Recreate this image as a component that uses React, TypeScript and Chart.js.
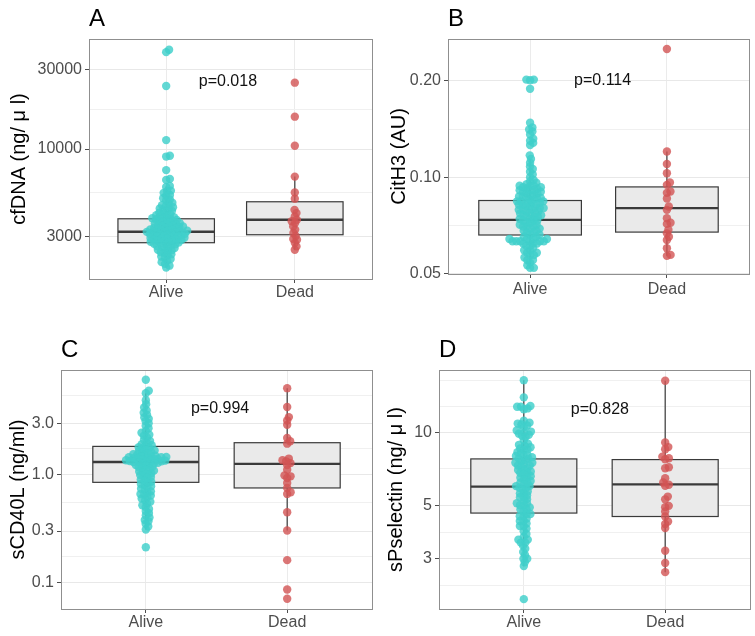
import React, { useEffect, useRef } from 'react';
import { Chart, registerables } from 'chart.js';
Chart.register(...registerables);

// ---------- data ----------
const categories = ['Alive', 'Dead'];

// Panel A: cfDNA
const cfdnaAlive = [39200, 37900, 23800, 11300, 9120, 9010, 7480, 6630, 6540, 6020, 5930, 5640, 5590, 5470, 5310, 5260, 5080, 4990, 4920, 4780, 4710, 4620, 4560, 4490, 4430, 4410, 4330, 4270, 4240, 4160, 4110, 4080, 4020, 3980, 3950, 3910, 3880, 3860, 3830, 3800, 3770, 3760, 3720, 3690, 3670, 3640, 3610, 3590, 3560, 3540, 3520, 3490, 3470, 3450, 3430, 3410, 3390, 3380, 3350, 3330, 3310, 3300, 3280, 3260, 3250, 3230, 3220, 3200, 3190, 3170, 3160, 3140, 3120, 3110, 3090, 3080, 3060, 3050, 3030, 3020, 3000, 2990, 2970, 2950, 2940, 2920, 2900, 2890, 2870, 2860, 2840, 2820, 2810, 2790, 2780, 2760, 2740, 2720, 2700, 2680, 2660, 2630, 2610, 2580, 2560, 2530, 2500, 2480, 2450, 2420, 2390, 2350, 2320, 2280, 2240, 2200, 2150, 2110, 2060, 2010, 1960];
const cfdnaDead = [24900, 15600, 10450, 6840, 5500, 5040, 4330, 4140, 3950, 3780, 3700, 3610, 3450, 3300, 3150, 3020, 2900, 2870, 2750, 2620, 2500];
// [lower whisker, Q1, median, Q3, upper whisker]
const cfdnaAliveBox = [1960, 2756, 3205, 3830, 5970];
const cfdnaDeadBox = [2500, 3075, 3780, 4840, 6840];
const cfdnaTicks = [3000, 10000, 30000];
const cfdnaTickLabels = ['3000', '10000', '30000'];
const cfdnaMinor = [5477, 17321];
const cfdnaRange = [1673, 45400];
const cfdnaP = { text: 'p=0.018', x: 1.48, y: 25100 };

// Panel B: CitH3
const cith3Alive = [0.202, 0.202, 0.201, 0.189, 0.148, 0.143, 0.141, 0.139, 0.136, 0.132, 0.130, 0.128, 0.126, 0.117, 0.114, 0.111, 0.108, 0.106, 0.104, 0.102, 0.100, 0.098, 0.097, 0.096, 0.095, 0.094, 0.094, 0.094, 0.093, 0.093, 0.092, 0.092, 0.091, 0.091, 0.091, 0.090, 0.090, 0.089, 0.089, 0.088, 0.088, 0.087, 0.087, 0.086, 0.086, 0.086, 0.085, 0.085, 0.084, 0.084, 0.084, 0.083, 0.083, 0.083, 0.082, 0.082, 0.082, 0.081, 0.081, 0.080, 0.080, 0.080, 0.079, 0.079, 0.079, 0.078, 0.078, 0.077, 0.077, 0.077, 0.076, 0.076, 0.075, 0.075, 0.075, 0.074, 0.074, 0.073, 0.073, 0.073, 0.072, 0.072, 0.071, 0.071, 0.070, 0.070, 0.070, 0.069, 0.069, 0.068, 0.068, 0.067, 0.067, 0.066, 0.066, 0.065, 0.065, 0.064, 0.064, 0.064, 0.064, 0.063, 0.063, 0.063, 0.063, 0.063, 0.063, 0.062, 0.062, 0.062, 0.061, 0.061, 0.060, 0.059, 0.059, 0.058, 0.058, 0.057, 0.057, 0.056, 0.055, 0.055, 0.054, 0.053, 0.052, 0.052];
const cith3Dead = [0.252, 0.1203, 0.110, 0.1029, 0.0962, 0.0946, 0.0902, 0.0893, 0.0857, 0.0809, 0.079, 0.0744, 0.072, 0.0714, 0.0684, 0.0667, 0.0651, 0.0636, 0.0599, 0.0571, 0.0567];
const cith3AliveBox = [0.052, 0.0659, 0.0735, 0.0845, 0.114];
const cith3DeadBox = [0.0567, 0.0673, 0.080, 0.0932, 0.1203];
const cith3Ticks = [0.05, 0.1, 0.2];
const cith3TickLabels = ['0.05', '0.10', '0.20'];
const cith3Minor = [0.0707, 0.1414];
const cith3Range = [0.04975, 0.2707];
const cith3P = { text: 'p=0.114', x: 1.53, y: 0.2 };

// Panel C: sCD40L
const cd40Alive = [7.6, 6.0, 5.7, 4.9, 4.5, 4.2, 3.95, 3.75, 3.6, 3.4, 3.3, 3.15, 3.0, 2.85, 2.7, 2.55, 2.45, 2.35, 2.3, 2.2, 2.1, 2.05, 1.98, 1.92, 1.88, 1.84, 1.8, 1.77, 1.74, 1.7, 1.68, 1.66, 1.62, 1.6, 1.58, 1.55, 1.53, 1.5, 1.5, 1.48, 1.47, 1.46, 1.45, 1.45, 1.43, 1.42, 1.4, 1.4, 1.39, 1.38, 1.36, 1.35, 1.35, 1.34, 1.33, 1.32, 1.31, 1.3, 1.29, 1.28, 1.26, 1.25, 1.23, 1.21, 1.19, 1.17, 1.15, 1.13, 1.11, 1.09, 1.07, 1.05, 1.03, 1.01, 0.99, 0.97, 0.95, 0.93, 0.9, 0.88, 0.86, 0.84, 0.82, 0.8, 0.78, 0.76, 0.74, 0.72, 0.7, 0.68, 0.66, 0.65, 0.64, 0.62, 0.6, 0.58, 0.56, 0.54, 0.52, 0.5, 0.48, 0.46, 0.44, 0.42, 0.4, 0.38, 0.37, 0.35, 0.33, 0.31, 0.212];
const cd40Dead = [6.35, 4.24, 3.42, 3.18, 2.9, 2.19, 2.04, 1.94, 1.41, 1.36, 1.33, 1.28, 1.23, 1.11, 0.985, 0.965, 0.93, 0.838, 0.753, 0.686, 0.663, 0.448, 0.303, 0.161, 0.086, 0.0706];
const cd40AliveBox = [0.31, 0.849, 1.31, 1.83, 5.7];
const cd40DeadBox = [0.303, 0.753, 1.26, 1.98, 6.35];
const cd40Ticks = [0.1, 0.3, 1, 3];
const cd40TickLabels = ['0.1', '0.3', '1.0', '3.0'];
const cd40Minor = [0.1732, 0.5477, 1.732, 5.477];
const cd40Range = [0.0567, 9.36];
const cd40P = { text: 'p=0.994', x: 1.525, y: 4.08 };

// Panel D: sPselectin
const pselAlive = [16.5, 14.0, 12.9, 12.8, 12.8, 12.6, 12.5, 11.2, 11.0, 10.9, 10.8, 10.7, 10.5, 10.2, 10.1, 10.0, 9.9, 9.8, 9.7, 9.6, 9.3, 9.0, 8.9, 8.8, 8.7, 8.6, 8.5, 8.5, 8.3, 8.2, 8.1, 8.0, 8.0, 7.9, 7.8, 7.8, 7.7, 7.6, 7.5, 7.5, 7.4, 7.3, 7.3, 7.2, 7.1, 7.0, 7.0, 6.9, 6.8, 6.8, 6.7, 6.6, 6.5, 6.5, 6.4, 6.3, 6.2, 6.2, 6.1, 6.0, 6.0, 5.9, 5.9, 5.8, 5.7, 5.6, 5.6, 5.5, 5.4, 5.4, 5.3, 5.2, 5.1, 5.1, 5.0, 5.0, 4.9, 4.8, 4.8, 4.7, 4.6, 4.6, 4.5, 4.5, 4.4, 4.3, 4.3, 4.2, 4.1, 4.1, 4.0, 3.9, 3.8, 3.7, 3.6, 3.6, 3.5, 3.5, 3.4, 3.3, 3.2, 3.1, 3.0, 3.0, 2.9, 2.8, 2.04];
const pselDead = [16.4, 9.1, 8.71, 8.53, 7.95, 7.83, 7.76, 7.19, 7.12, 6.47, 6.21, 6.08, 6.02, 5.43, 5.29, 4.97, 4.91, 4.71, 4.49, 4.28, 4.18, 4.02, 3.24, 2.88, 2.64];
const pselAliveBox = [2.79, 4.64, 5.97, 7.78, 16.5];
const pselDeadBox = [2.64, 4.49, 6.1, 7.73, 16.4];
const pselTicks = [3, 5, 10];
const pselTickLabels = ['3', '5', '10'];
const pselMinor = [2.33, 3.87, 7.07, 12.8, 16.4];
const pselRange = [1.857, 18.18];
const pselP = { text: 'p=0.828', x: 1.538, y: 12.5 };

// ---------- panel definitions ----------
const panels = [
  { tag: 'A', yTitle: 'cfDNA (ng/ μ l)', alive: cfdnaAlive, dead: cfdnaDead, boxes: [cfdnaAliveBox, cfdnaDeadBox], ticks: cfdnaTicks, tickLabels: cfdnaTickLabels, minor: cfdnaMinor, range: cfdnaRange, p: cfdnaP },
  { tag: 'B', yTitle: 'CitH3 (AU)', alive: cith3Alive, dead: cith3Dead, boxes: [cith3AliveBox, cith3DeadBox], ticks: cith3Ticks, tickLabels: cith3TickLabels, minor: cith3Minor, range: cith3Range, p: cith3P },
  { tag: 'C', yTitle: 'sCD40L (ng/ml)', alive: cd40Alive, dead: cd40Dead, boxes: [cd40AliveBox, cd40DeadBox], ticks: cd40Ticks, tickLabels: cd40TickLabels, minor: cd40Minor, range: cd40Range, p: cd40P },
  { tag: 'D', yTitle: 'sPselectin (ng/ μ l)', alive: pselAlive, dead: pselDead, boxes: [pselAliveBox, pselDeadBox], ticks: pselTicks, tickLabels: pselTickLabels, minor: pselMinor, range: pselRange, p: pselP },
];

// layout: canvas box + paddings
const layouts = [
  { left: 0, top: 0, w: 377, h: 318, pad: { left: 3.5, top: 39, right: 5, bottom: 9 }, yW: 85.5, xH: 30, xPad: 0 },
  { left: 377, top: 0, w: 378, h: 318, pad: { left: 6, top: 39, right: 6, bottom: 14 }, yW: 65, xH: 30, xPad: 2 },
  { left: 0, top: 318, w: 377, h: 318, pad: { left: 2.5, top: 52, right: 5, bottom: 0 }, yW: 58.5, xH: 27, xPad: 0 },
  { left: 377, top: 318, w: 378, h: 318, pad: { left: 3, top: 52, right: 5, bottom: 0 }, yW: 59, xH: 27, xPad: 0 },
];

const FONT = "'Liberation Sans', Arial, sans-serif";
const ALIVE_COLOR = 'rgba(64,208,202,0.82)';
const DEAD_COLOR = 'rgba(210,84,84,0.8)';
const SPACING = 3.8;

function swarm(ys: number[], s: number): number[] {
  const idx = ys.map((_, i) => i).sort((a, b) => ys[b] - ys[a]);
  const placed: { x: number; y: number }[] = [];
  const out = new Array(ys.length).fill(0);
  for (const i of idx) {
    const y = ys[i];
    const near = placed.filter((p) => Math.abs(p.y - y) < s);
    const cands = [0];
    for (const p of near) {
      const w = Math.sqrt(s * s - (p.y - y) * (p.y - y));
      cands.push(p.x + w, p.x - w);
    }
    cands.sort((a, b) => Math.abs(a) - Math.abs(b));
    let best = 0;
    for (const c of cands) {
      if (near.every((p) => (p.x - c) * (p.x - c) + (p.y - y) * (p.y - y) >= s * s - 1e-6)) {
        best = c;
        break;
      }
    }
    placed.push({ x: best, y });
    out[i] = best;
  }
  return out;
}

function Panel({ cfg, lay }: { cfg: any; lay: any }) {
  const ref = useRef<HTMLCanvasElement | null>(null);
  useEffect(() => {
    const canvas = ref.current!;
    const majorSet = cfg.ticks;
    const isMajor = (v: number) => majorSet.some((m: number) => Math.abs(m - v) / m < 1e-6);

    const boxPlugin = {
      id: 'boxes' + cfg.tag,
      beforeDatasetsDraw(chart: any) {
        const { ctx } = chart;
        const xs = chart.scales.x, ys = chart.scales.y;
        cfg.boxes.forEach((b: number[], gi: number) => {
          const cx = xs.getPixelForValue(gi + 1);
          const x0 = xs.getPixelForValue(gi + 1 - 0.375);
          const x1 = xs.getPixelForValue(gi + 1 + 0.375);
          const [lo, q1, med, q3, hi] = b.map((v) => ys.getPixelForValue(v));
          ctx.save();
          ctx.strokeStyle = '#3a3a3a';
          ctx.lineWidth = 1.2;
          ctx.beginPath();
          ctx.moveTo(cx, q1); ctx.lineTo(cx, lo);
          ctx.moveTo(cx, q3); ctx.lineTo(cx, hi);
          ctx.stroke();
          ctx.fillStyle = '#EAEAEA';
          ctx.fillRect(x0, q3, x1 - x0, q1 - q3);
          ctx.strokeRect(x0, q3, x1 - x0, q1 - q3);
          ctx.lineWidth = 2.4;
          ctx.beginPath();
          ctx.moveTo(x0, med); ctx.lineTo(x1, med);
          ctx.stroke();
          ctx.restore();
        });
      },
      afterDatasetsDraw(chart: any) {
        const { ctx, chartArea } = chart;
        const xs = chart.scales.x, ys = chart.scales.y;
        ctx.save();
        ctx.strokeStyle = '#8f8f8f';
        ctx.lineWidth = 1;
        ctx.strokeRect(Math.round(chartArea.left) + 0.5, Math.round(chartArea.top) + 0.5,
          Math.round(chartArea.right - chartArea.left), Math.round(chartArea.bottom - chartArea.top));
        ctx.fillStyle = '#111';
        ctx.font = `16px ${FONT}`;
        ctx.textAlign = 'center';
        ctx.textBaseline = 'middle';
        ctx.fillText(cfg.p.text, xs.getPixelForValue(cfg.p.x), ys.getPixelForValue(cfg.p.y));
        ctx.font = `24px ${FONT}`;
        ctx.textAlign = 'left';
        ctx.textBaseline = 'alphabetic';
        ctx.fillStyle = '#000';
        ctx.fillText(cfg.tag, chartArea.left, chartArea.top - 13);
        ctx.restore();
      },
    };

    const chart = new Chart(canvas, {
      type: 'scatter',
      data: {
        datasets: [
          { data: cfg.alive.map((v: number) => ({ x: 1, y: v })), backgroundColor: ALIVE_COLOR, borderWidth: 0, pointRadius: 4.2, pointHoverRadius: 4.2 },
          { data: cfg.dead.map((v: number) => ({ x: 2, y: v })), backgroundColor: DEAD_COLOR, borderWidth: 0, pointRadius: 4.2, pointHoverRadius: 4.2 },
        ],
      },
      options: {
        animation: false,
        responsive: false,
        maintainAspectRatio: false,
        events: [],
        layout: { padding: lay.pad },
        plugins: { legend: { display: false }, tooltip: { enabled: false }, title: { display: false } },
        scales: {
          x: {
            type: 'linear',
            min: 0.4,
            max: 2.6,
            afterBuildTicks: (s: any) => { s.ticks = [{ value: 1 }, { value: 2 }]; },
            afterFit: (s: any) => { s.height = lay.xH; },
            ticks: {
              autoSkip: false,
              maxRotation: 0,
              padding: lay.xPad,
              color: '#4D4D4D',
              font: { family: FONT, size: 16 },
              callback: (v: any) => categories[Math.round(v) - 1],
            },
            grid: { color: '#EBEBEB', lineWidth: 1, tickLength: 4, tickColor: '#4d4d4d', drawTicks: true },
            border: { display: false },
          },
          y: {
            type: 'logarithmic',
            min: cfg.range[0],
            max: cfg.range[1],
            afterBuildTicks: (s: any) => {
              const all = [...cfg.ticks, ...cfg.minor].sort((a: number, b: number) => a - b);
              s.ticks = all.map((v: number) => ({ value: v }));
            },
            afterFit: (s: any) => { s.width = lay.yW; },
            ticks: {
              autoSkip: false,
              padding: 3,
              color: '#4D4D4D',
              font: { family: FONT, size: 16 },
              callback: (v: any) => {
                const i = cfg.ticks.findIndex((m: number) => Math.abs(m - v) / m < 1e-6);
                return i >= 0 ? cfg.tickLabels[i] : '';
              },
            },
            grid: {
              lineWidth: 1,
              tickLength: 4,
              color: (c: any) => (c.tick && isMajor(c.tick.value) ? '#E8E8E8' : '#F0F0F0'),
              tickColor: (c: any) => (c.tick && isMajor(c.tick.value) ? '#4d4d4d' : 'rgba(0,0,0,0)'),
            },
            border: { display: false },
            title: {
              display: true,
              text: cfg.yTitle,
              color: '#000',
              font: { family: FONT, size: 20 },
              padding: { top: 4, bottom: 4 },
            },
          },
        },
      },
      plugins: [boxPlugin],
    } as any);

    const xs: any = chart.scales.x, ys: any = chart.scales.y;
    const ppu = xs.getPixelForValue(2) - xs.getPixelForValue(1);
    [cfg.alive, cfg.dead].forEach((vals: number[], gi: number) => {
      const py = vals.map((v) => ys.getPixelForValue(v));
      const dx = swarm(py, SPACING);
      chart.data.datasets[gi].data = vals.map((v, i) => ({ x: gi + 1 + dx[i] / ppu, y: v }));
    });
    chart.update();
    return () => chart.destroy();
  }, []);
  return (
    <canvas
      ref={ref}
      width={lay.w}
      height={lay.h}
      style={{ position: 'absolute', left: lay.left, top: lay.top, width: lay.w, height: lay.h }}
    />
  );
}

export default function App() {
  return (
    <div style={{ position: 'fixed', left: 0, top: 0, width: 755, height: 636, background: '#fff' }}>
      {panels.map((p, i) => (
        <Panel key={p.tag} cfg={p} lay={layouts[i]} />
      ))}
    </div>
  );
}
